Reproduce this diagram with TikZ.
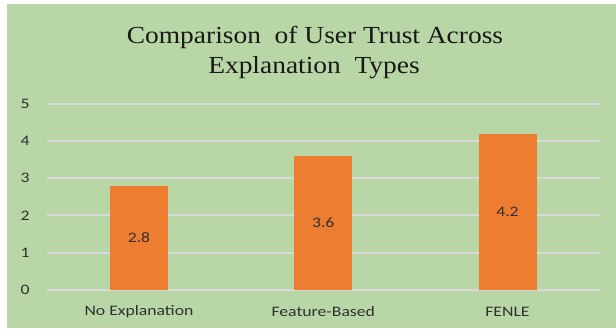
\documentclass[tikz,border=0pt]{standalone}
\usepackage{fontspec}
\usepackage{graphicx}
\setmainfont{Liberation Serif}
\newfontfamily\lblfont{Carlito}
\definecolor{bggreen}{HTML}{B9D7A6}
\definecolor{barorange}{HTML}{ED7D31}
\definecolor{gridgray}{HTML}{D9D9D9}
\definecolor{txtgray}{HTML}{303030}
\newcommand{\sxl}[1]{\scalebox{1.22}[1]{#1}}
\newcommand{\sxt}[1]{\scalebox{1.12}[1]{#1}}
\begin{document}
\begin{tikzpicture}[x=1pt,y=-1pt,
  lbl/.style={font=\lblfont\fontsize{14.5}{16}\selectfont, text=txtgray, inner sep=0pt},
  ttl/.style={font=\fontsize{24.5}{28}\selectfont, text=black!90, inner sep=0pt, anchor=base},
  gridline/.style={draw=gridgray, line width=2pt},
  barbox/.style={fill=barorange}]
\useasboundingbox (0,0) rectangle (616,335);
\fill[white] (0,0) rectangle (616,335);
\fill[bggreen] (7,4) rectangle (616,328);
% title
\node[ttl] (t1) at (315,43.5) {\sxt{Comparison\ \ of User Trust Across}};
\node[ttl] (t2) at (314,73.5) {\sxt{Explanation\ \ Types}};
% gridlines and y labels
\foreach \k in {0,...,5}{
  \draw[gridline] (47,{289.7-37.15*\k}) -- (600,{289.7-37.15*\k});
  \node[lbl] (y\k) at (25,{289.7-37.15*\k}) {\sxl{\k}};
}
% bars
\foreach \cx/\v/\name in {139/2.8/No Explanation, 323.25/3.6/Feature-Based, 507.5/4.2/FENLE}{
  \fill[barbox] ({\cx-29},{289.7-37.15*\v}) rectangle ({\cx+29},289.7);
  \node[lbl] (v\cx) at (\cx,{289.7-37.15*\v/2}) {\sxl{\v}};
  \node[lbl] (c\cx) at (\cx,312) {\sxl{\name}};
}
\end{tikzpicture}
\end{document}
